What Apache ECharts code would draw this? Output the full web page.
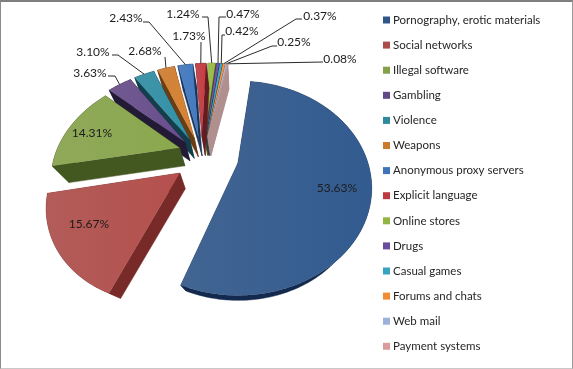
<!DOCTYPE html>
<html>
<head>
<meta charset="utf-8">
<style>
html, body { margin: 0; padding: 0; background: #fff; }
#main { position: absolute; left: 0; top: 0; width: 573px; height: 369px; }
#frame { position: absolute; left: 0; top: 0; width: 573px; height: 369px; box-sizing: border-box; pointer-events: none;
  border-top: 2px solid #7f7f7f; border-left: 1px solid #8c8c8c; border-right: 1px solid #9a9a9a; border-bottom: 1px solid #c8c8c8; }
</style>
<script src="https://cdn.jsdelivr.net/npm/echarts@6/dist/echarts.min.js"></script>
</head>
<body>
<div id="main"></div>
<div id="frame"></div>
<script>
var categories = ['Pornography, erotic materials', 'Social networks', 'Illegal software', 'Gambling', 'Violence', 'Weapons',
    'Anonymous proxy servers', 'Explicit language', 'Online stores', 'Drugs', 'Casual games', 'Forums and chats', 'Web mail', 'Payment systems'];
var shares = [53.63, 15.67, 14.31, 3.63, 3.10, 2.68, 2.43, 1.73, 1.24, 0.47, 0.42, 0.37, 0.25, 0.08];
var topColors = ['#305688', '#ab4c49', '#84a04a', '#634a86', '#2f8aa0', '#cc7a2e', '#3f74b8', '#bd3a40', '#93b544', '#6a4c9c', '#36a3c0', '#f08c36', '#9db2d8', '#d99c9b'];
var sideColors = ['#13294d', '#772a28', '#435720', '#231a36', '#123f4b', '#6b3d12', '#1b3558', '#641c20', '#4c5f20', '#33254f', '#1b5160', '#7a461a', '#8f94ad', '#b08f8f'];

// label centres, and for outer labels the leader's far end and elbow
var labelSpots = [[337, 188], [89, 224], [92, 133], [90, 73], [93, 52], [145, 51], [126, 18], [189, 36], [183, 14], [243, 14], [242, 31], [320, 16], [294, 42], [340, 59]];
var leaders = [null, null, null,
    [[108, 76], [115, 76]], [[112, 55], [118, 55]], [[165, 57]], [[143, 22], [149, 22]], [[201, 42]], [[202, 17], [208, 17]],
    [[226, 17], [219, 17]], [[225, 35], [222, 35]], [[302, 19], [296, 19]], [[277, 46], [272, 46]], [[323, 62]]];

var originX = 238, originY = 163, scaleX = 130, scaleY = 101.2, persp = 0.2336;
var vanishX = 240, vanishY = 350, depth = 0.09;
var startDeg = 7;
var centerU = -0.272, centerV = -0.063;

var total = shares.reduce(function(a, b) { return a + b }, 0);

function project(u, v) {
    var w = 1 - persp * v;
    return [originX + scaleX * u / w, originY + scaleY * v / w];
}
function extrude(p) {
    return [p[0] + (vanishX - p[0]) * depth, p[1] + (vanishY - p[1]) * depth];
}
// slice offset from the pie centre, as [du, dv]
function offsetOf(i, mid) {
    if (i === 0) return [0.279 * Math.sin(mid), -0.279 * Math.cos(mid)];
    if (i === 1) return [0.195 * Math.sin(mid) - 0.02, -0.195 * Math.cos(mid) + 0.03];
    if (i === 2) return [0.21 * Math.sin(mid) + 0.01, -0.21 * Math.cos(mid) - 0.05];
    return [0.22 * Math.sin(mid), -0.22 * Math.cos(mid)];
}
// the reference's perspective pulls the left half of the pie clockwise a little
function warp(a) {
    if (a < 201) return a;
    if (a > 345) return a + 2.4 - (a - 345) * 0.05;
    return a + Math.min(2.4, (a - 201) * 0.05);
}
function reachOf(i) {
    if (i === 1) return 0.95;
    if (i === 2) return 0.97;
    return 1;
}
function startOf(i) {
    var sum = 0;
    for (var k = 0; k < i; k++) sum += shares[k];
    return startDeg + sum / total * 360;
}

function sliceItem(i) {
    return function(params, api) {
        var value = api.value(0);
        var a0 = startOf(i), a1 = a0 + value / total * 360, mid = warp((a0 + a1) / 2) * Math.PI / 180;
        var off = offsetOf(i, (a0 + a1) / 2 * Math.PI / 180);
        var apexU = centerU + off[0], apexV = centerV + off[1];
        var reach = reachOf(i);
        var arc = [], steps = Math.max(2, Math.ceil(a1 - a0));
        for (var s = 0; s <= steps; s++) {
            var t = warp(a0 + (a1 - a0) * s / steps) * Math.PI / 180;
            arc.push(project(apexU + reach * Math.sin(t), apexV - reach * Math.cos(t)));
        }
        var apex = project(apexU, apexV);
        var apexLow = extrude(apex);
        var arcLow = arc.map(extrude);
        var side = sideColors[i], c = topColors[i];
        var wallStyle = { fill: side, stroke: side, lineWidth: 0.5 };
        var children = [
            { type: 'polygon', shape: { points: [apex, arc[0], arcLow[0], apexLow] }, style: wallStyle },
            { type: 'polygon', shape: { points: [apex, arc[steps], arcLow[steps], apexLow] }, style: wallStyle },
            { type: 'polygon', shape: { points: arc.concat(arcLow.slice().reverse()) }, style: wallStyle },
            { type: 'polygon', shape: { points: [apex].concat(arc) }, style: {
                fill: new echarts.graphic.LinearGradient(0, 0, 1, 0, [
                    { offset: 0, color: echarts.color.lift(c, 0.09) },
                    { offset: 1, color: echarts.color.lift(c, -0.06) }
                ])
            } }
        ];
        if (leaders[i]) {
            var edge = project(apexU + Math.sin(mid), apexV - Math.cos(mid));
            children.push({ type: 'polyline', z2: 5, shape: { points: leaders[i].concat([edge]) }, style: { fill: null, stroke: '#2b2b2b', lineWidth: 1 } });
        }
        children.push({ type: 'text', z2: 6, style: {
            x: labelSpots[i][0], y: labelSpots[i][1], text: value.toFixed(2) + '%',
            fill: '#1c1c1c', font: '12px Lato', align: 'center', verticalAlign: 'middle'
        } });
        return { type: 'group', children: children };
    };
}

// back slices first
var drawOrder = shares.map(function(v, i) { return i }).sort(function(a, b) {
    var ma = (startOf(a) + shares[a] / total * 180) * Math.PI / 180;
    var mb = (startOf(b) + shares[b] / total * 180) * Math.PI / 180;
    return (centerV - Math.cos(ma)) - (centerV - Math.cos(mb));
});

var series = categories.map(function(name, i) {
    return {
        type: 'custom',
        name: name,
        coordinateSystem: 'none',
        z: 2 + drawOrder.indexOf(i),
        silent: true,
        animation: false,
        itemStyle: { color: topColors[i] },
        data: [[shares[i]]],
        renderItem: sliceItem(i)
    };
});

var chart = echarts.init(document.getElementById('main'));
chart.setOption({
    animation: false,
    backgroundColor: '#fff',
    legend: {
        orient: 'vertical',
        left: 383,
        top: 12,
        padding: 0,
        selectedMode: false,
        icon: 'rect',
        itemWidth: 7,
        itemHeight: 7,
        itemGap: 9.1,
        data: categories,
        textStyle: { fontFamily: 'Lato', fontSize: 11.5, color: '#262626', lineHeight: 16, padding: [0, 0, 0, -2] }
    },
    series: series
});
</script>
</body>
</html>
